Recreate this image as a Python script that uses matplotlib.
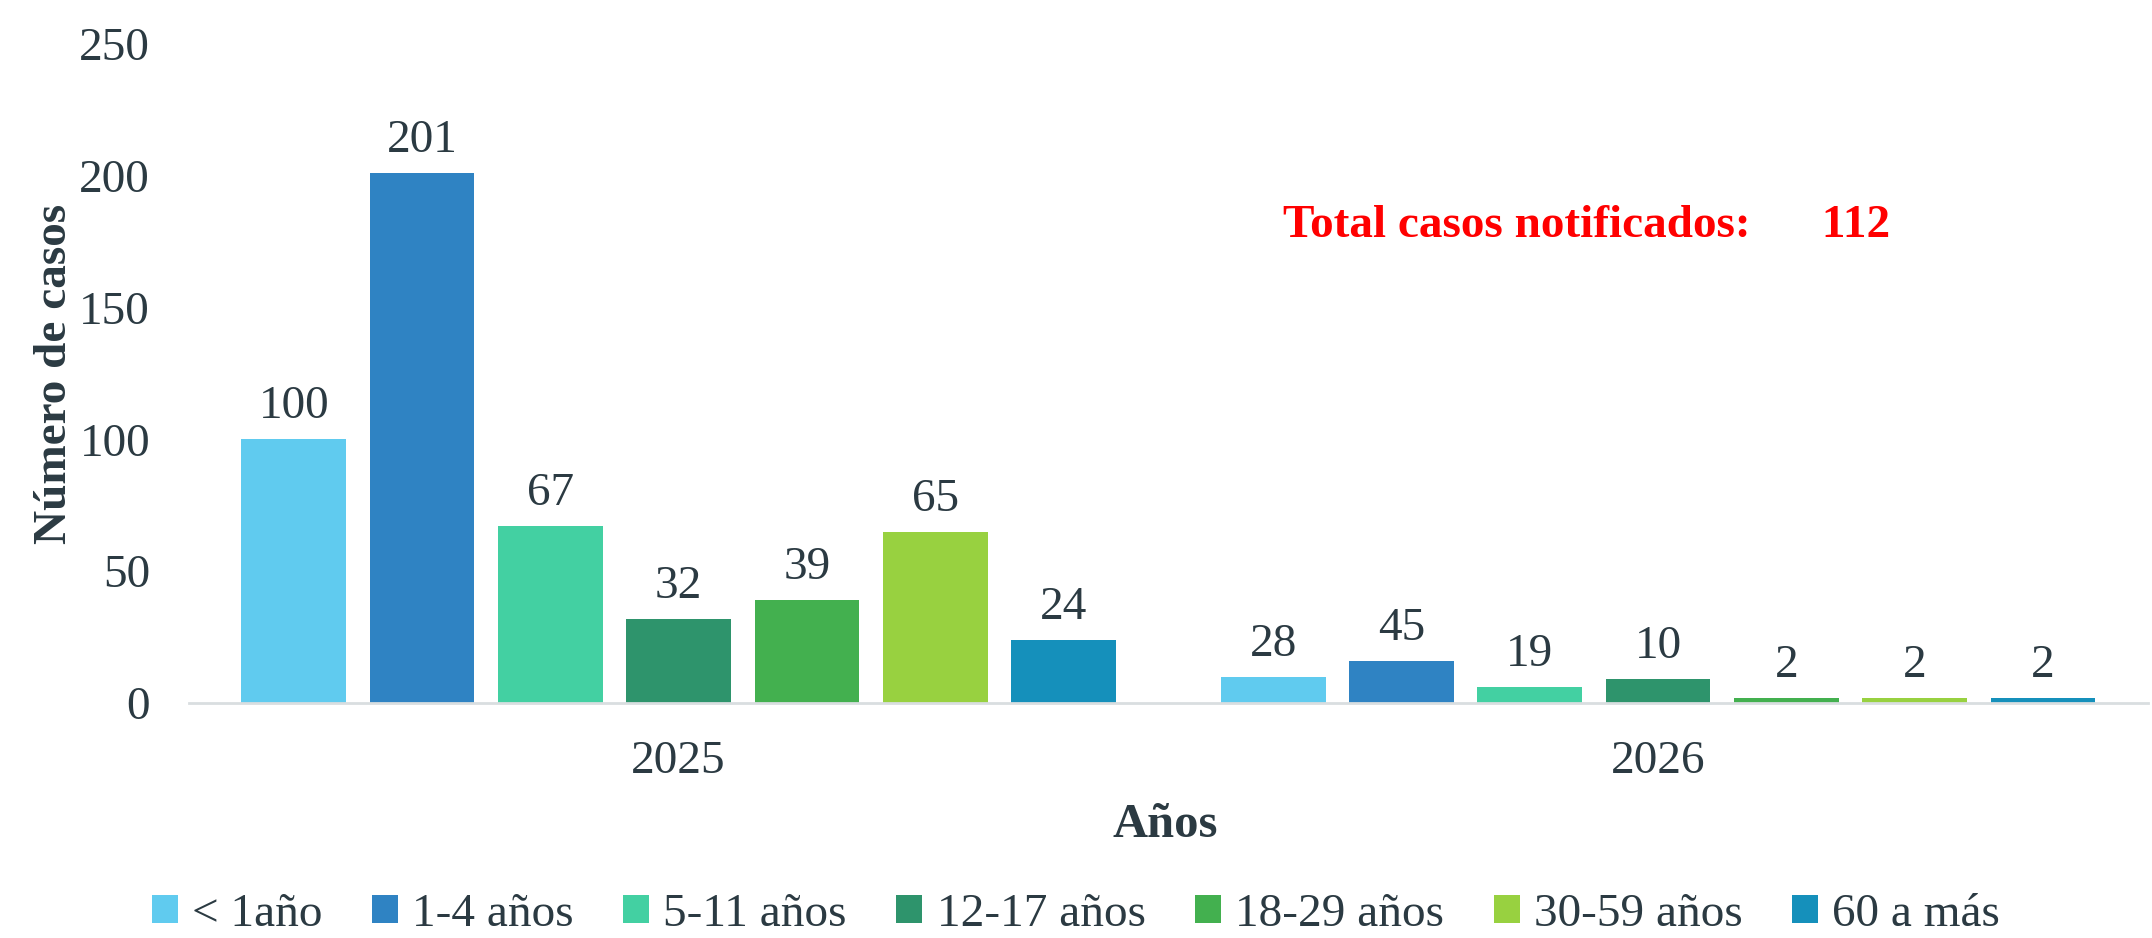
import numpy as np
import matplotlib.pyplot as plt
from matplotlib.patches import Patch

# datos
years = ['2025', '2026']
groups = ['< 1año', '1-4 años', '5-11 años', '12-17 años', '18-29 años', '30-59 años', '60 a más']
colors = ['#60CBEF', '#2F83C3', '#43D0A2', '#2E946C', '#43B04F', '#98D140', '#1590BB']
# altura de las barras (lo que se dibuja)
heights_2025 = [100, 201, 67, 32, 39, 65, 24]
heights_2026 = [10, 16, 6, 9, 2, 2, 2]
# etiquetas mostradas encima de cada barra
labels_2025 = [100, 201, 67, 32, 39, 65, 24]
labels_2026 = [28, 45, 19, 10, 2, 2, 2]
total_cases = 112

plt.rcParams['font.family'] = ['Liberation Serif', 'DejaVu Serif']
text_color = '#2B3A42'
fs = 34

fig = plt.figure(figsize=(21.52, 9.38), dpi=100)
ax = fig.add_axes([0.0878, 0.2505, 0.9102, 0.7025])

heights = [heights_2025, heights_2026]
labels = [labels_2025, labels_2026]
step = 0.131
width = 0.107
x = np.arange(len(years))
for i, g in enumerate(groups):
    pos = x + (i - 3) * step
    vals = [heights[0][i], heights[1][i]]
    bars = ax.bar(pos, vals, width=width, color=colors[i], label=g)
    for b, lab in zip(bars, [labels[0][i], labels[1][i]]):
        ax.annotate(str(lab), (b.get_x() + b.get_width() / 2, b.get_height()),
                    xytext=(0, 8), textcoords='offset points', ha='center', va='bottom',
                    fontsize=fs, color=text_color)

ax.set_xlim(-0.5, 1.5)
ax.set_ylim(0, 250)
ax.set_yticks(range(0, 251, 50))
ax.set_xticks(x)
ax.set_xticklabels(years)
ax.tick_params(axis='both', length=0, labelsize=fs, colors=text_color)
ax.tick_params(axis='x', pad=27)
ax.tick_params(axis='y', pad=28)
for s in ['top', 'right', 'left']:
    ax.spines[s].set_visible(False)
ax.spines['bottom'].set_color('#D9DEE0')
ax.spines['bottom'].set_linewidth(2)

ax.set_ylabel('Número de casos', fontsize=fs, fontweight='bold', color=text_color, labelpad=2)
fig.text(0.5415, 0.121, 'Años', fontsize=35, fontweight='bold', color=text_color,
         ha='center', va='center')

fig.text(0.596, 0.759, 'Total casos notificados:      ' + str(total_cases), fontsize=fs,
         fontweight='bold', color='red', ha='left', va='center')

handles = [Patch(facecolor=c, label=g) for c, g in zip(colors, groups)]
fig.legend(handles=handles, loc='center', bbox_to_anchor=(0.5, 0.025), ncol=7,
           frameon=False, fontsize=fs, handlelength=0.55, handleheight=0.55,
           handletextpad=0.3, columnspacing=1.05, labelcolor=text_color)

fig.savefig('out.png', dpi=100)
